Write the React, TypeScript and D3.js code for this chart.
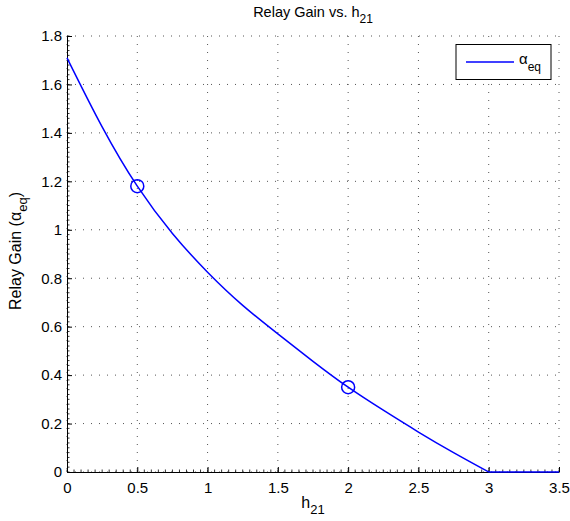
import React, { useEffect, useRef } from "react";
import * as d3 from "d3";

// h21 samples and the relay gain
const hValues = [0, 0.25, 0.5, 0.75, 1, 1.25, 1.5, 1.75, 2, 2.25, 2.5, 2.75, 3, 3.5];
const gainValues = [1.71, 1.425, 1.18, 0.985, 0.825, 0.688, 0.57, 0.457, 0.35, 0.255, 0.165, 0.08, 0, 0];

// circled points
const markerH = [0.5, 2];
const markerGain = [1.18, 0.35];

const xTicks = [0, 0.5, 1, 1.5, 2, 2.5, 3, 3.5];
const yTicks = [0, 0.2, 0.4, 0.6, 0.8, 1, 1.2, 1.4, 1.6, 1.8];

const W = 570;
const H = 521;
const FONT = "'Liberation Sans', Arial, Helvetica, sans-serif";
const BLUE = "#0000ff";

export default function App() {
  const ref = useRef<SVGSVGElement>(null);

  useEffect(() => {
    const svg = d3.select(ref.current);
    svg.selectAll("*").remove();

    const left = 67, right = 559, top = 36, bottom = 472;

    const x = d3.scaleLinear().domain([0, 3.5]).range([left, right]);
    const y = d3.scaleLinear().domain([0, 1.8]).range([bottom, top]);

    const g = svg.append("g");

    // dotted grid
    g.append("g").selectAll("line").data(xTicks).join("line")
      .attr("x1", d => x(d)).attr("x2", d => x(d))
      .attr("y1", top).attr("y2", bottom)
      .attr("stroke", "#555").attr("stroke-width", 1)
      .attr("stroke-dasharray", "1,7");
    g.append("g").selectAll("line").data(yTicks).join("line")
      .attr("x1", left).attr("x2", right)
      .attr("y1", d => y(d)).attr("y2", d => y(d))
      .attr("stroke", "#555").attr("stroke-width", 1)
      .attr("stroke-dasharray", "1,7");

    // minor ticks
    const xMinor = d3.range(0, 3.5001, 0.05);
    const yMinor = d3.range(0, 1.8001, 0.02);
    g.append("g").selectAll("line").data(xMinor).join("line")
      .attr("x1", d => x(d)).attr("x2", d => x(d))
      .attr("y1", bottom).attr("y2", bottom - 2.5)
      .attr("stroke", "#000").attr("stroke-width", 0.8);
    g.append("g").selectAll("line").data(yMinor).join("line")
      .attr("x1", left).attr("x2", left + 2.5)
      .attr("y1", d => y(d)).attr("y2", d => y(d))
      .attr("stroke", "#000").attr("stroke-width", 0.8);

    // axes
    const xAxis = g.append("g")
      .attr("transform", `translate(0,${bottom})`)
      .call(d3.axisBottom(x).tickValues(xTicks).tickSize(-5).tickSizeOuter(0)
        .tickPadding(10).tickFormat(d => String(d)));
    const yAxis = g.append("g")
      .attr("transform", `translate(${left},0)`)
      .call(d3.axisLeft(y).tickValues(yTicks).tickSize(-5).tickSizeOuter(0)
        .tickPadding(5).tickFormat(d => String(d)));
    [xAxis, yAxis].forEach(a => {
      a.selectAll("text").attr("font-family", FONT).attr("font-size", 15).attr("fill", "#000");
      a.selectAll("line").attr("stroke", "#000");
      a.select(".domain").attr("stroke", "#000");
    });

    // curve (smooth part up to h = 3, then flat)
    const pts = hValues.map((h, i) => [h, gainValues[i]] as [number, number]);
    const curved = pts.filter(p => p[0] <= 3);
    const flat = pts.filter(p => p[0] >= 3);
    const smooth = d3.line<[number, number]>().x(d => x(d[0])).y(d => y(d[1])).curve(d3.curveNatural);
    const straight = d3.line<[number, number]>().x(d => x(d[0])).y(d => y(d[1]));
    g.append("path").attr("d", smooth(curved)).attr("fill", "none")
      .attr("stroke", BLUE).attr("stroke-width", 1.5);
    g.append("path").attr("d", straight(flat)).attr("fill", "none")
      .attr("stroke", BLUE).attr("stroke-width", 1.5);

    // markers
    g.append("g").selectAll("circle").data(markerH).join("circle")
      .attr("cx", d => x(d)).attr("cy", (d, i) => y(markerGain[i]))
      .attr("r", 6.5).attr("fill", "none")
      .attr("stroke", BLUE).attr("stroke-width", 1.5);

    // title
    const title = svg.append("text")
      .attr("x", (left + right) / 2).attr("y", 17)
      .attr("text-anchor", "middle")
      .attr("font-family", FONT).attr("font-size", 14.5);
    title.append("tspan").text("Relay Gain vs. h");
    title.append("tspan").attr("dy", 6).attr("font-size", 12).text("21");

    // x label
    const xl = svg.append("text")
      .attr("x", (left + right) / 2).attr("y", 508)
      .attr("text-anchor", "middle")
      .attr("font-family", FONT).attr("font-size", 16);
    xl.append("tspan").text("h");
    xl.append("tspan").attr("dy", 6).attr("font-size", 13).text("21");

    // y label
    const yl = svg.append("text")
      .attr("transform", `translate(21,251) rotate(-90)`)
      .attr("text-anchor", "middle")
      .attr("font-family", FONT).attr("font-size", 16);
    yl.append("tspan").text("Relay Gain (\u03b1");
    yl.append("tspan").attr("dy", 6).attr("font-size", 13).text("eq");
    yl.append("tspan").attr("dy", -6).text(")");

    // legend
    const lg = svg.append("g");
    lg.append("rect").attr("x", 456).attr("y", 44.5).attr("width", 95).attr("height", 35)
      .attr("fill", "#fff").attr("stroke", "#000").attr("stroke-width", 1);
    lg.append("line").attr("x1", 466).attr("x2", 514).attr("y1", 62).attr("y2", 62)
      .attr("stroke", BLUE).attr("stroke-width", 1.5);
    const lt = lg.append("text").attr("x", 519).attr("y", 64)
      .attr("font-family", FONT).attr("font-size", 15);
    lt.append("tspan").text("\u03b1");
    lt.append("tspan").attr("dy", 7).attr("font-size", 12).text("eq");
  }, []);

  return (
    <svg ref={ref} width={W} height={H}
      style={{ position: "absolute", left: 0, top: 0, background: "#fff" }} />
  );
}
